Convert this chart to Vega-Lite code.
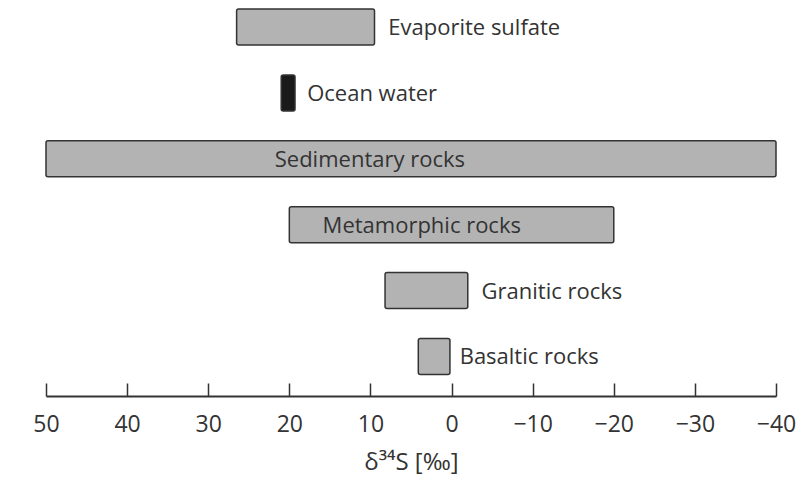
{
  "$schema": "https://vega.github.io/schema/vega-lite/v6.json",
  "width": 730,
  "height": 396,
  "autosize": {"type": "none"},
  "padding": {"left": 46, "top": 0, "right": 36, "bottom": 86},
  "background": "white",
  "config": {"view": {"stroke": null}, "font": "Open Sans"},
  "data": {
    "values": [
      {"source": "Evaporite sulfate", "hi": 26.5, "lo": 9.5, "label_x": 7.8, "kind": "range"},
      {"source": "Ocean water", "hi": 21, "lo": 19.3, "label_x": 17.8, "kind": "ocean"},
      {"source": "Sedimentary rocks", "hi": 50, "lo": -40, "label_x": 21.8, "kind": "range"},
      {"source": "Metamorphic rocks", "hi": 20, "lo": -20, "label_x": 15.9, "kind": "range"},
      {"source": "Granitic rocks", "hi": 8.2, "lo": -2, "label_x": -3.7, "kind": "range"},
      {"source": "Basaltic rocks", "hi": 4.1, "lo": 0.2, "label_x": -1.0, "kind": "range"}
    ]
  },
  "encoding": {
    "y": {
      "field": "source",
      "type": "nominal",
      "sort": null,
      "axis": null,
      "scale": {"paddingInner": 0.454, "paddingOuter": 0.232, "align": 0.295}
    }
  },
  "layer": [
    {
      "mark": {"type": "bar", "stroke": "#333333", "strokeWidth": 1.5, "cornerRadius": 2},
      "encoding": {
        "x": {
          "field": "hi",
          "type": "quantitative",
          "scale": {"domain": [-40, 50], "reverse": true, "nice": false, "zero": false},
          "axis": {
            "values": [50, 40, 30, 20, 10, 0, -10, -20, -30, -40],
            "format": "d",
            "grid": false,
            "domainColor": "#333333",
            "domainWidth": 2,
            "tickColor": "#333333",
            "tickWidth": 1.5,
            "tickSize": -13,
            "labelFlush": false,
            "labelOverlap": false,
            "labelFontSize": 23,
            "labelColor": "#333333",
            "labelPadding": 30,
            "labelFont": "Open Sans",
            "title": "δ³⁴S [‰]",
            "titleFontSize": 24,
            "titleFontWeight": "normal",
            "titleColor": "#333333",
            "titlePadding": 14,
            "titleFont": "Open Sans"
          }
        },
        "x2": {"field": "lo"},
        "fill": {
          "field": "kind",
          "type": "nominal",
          "scale": {"domain": ["range", "ocean"], "range": ["#b3b3b3", "#1a1a1a"]},
          "legend": null
        }
      }
    },
    {
      "mark": {"type": "text", "align": "left", "baseline": "middle", "fontSize": 22, "color": "#333333", "dy": 1},
      "encoding": {
        "x": {"field": "label_x", "type": "quantitative"},
        "text": {"field": "source"}
      }
    }
  ]
}
